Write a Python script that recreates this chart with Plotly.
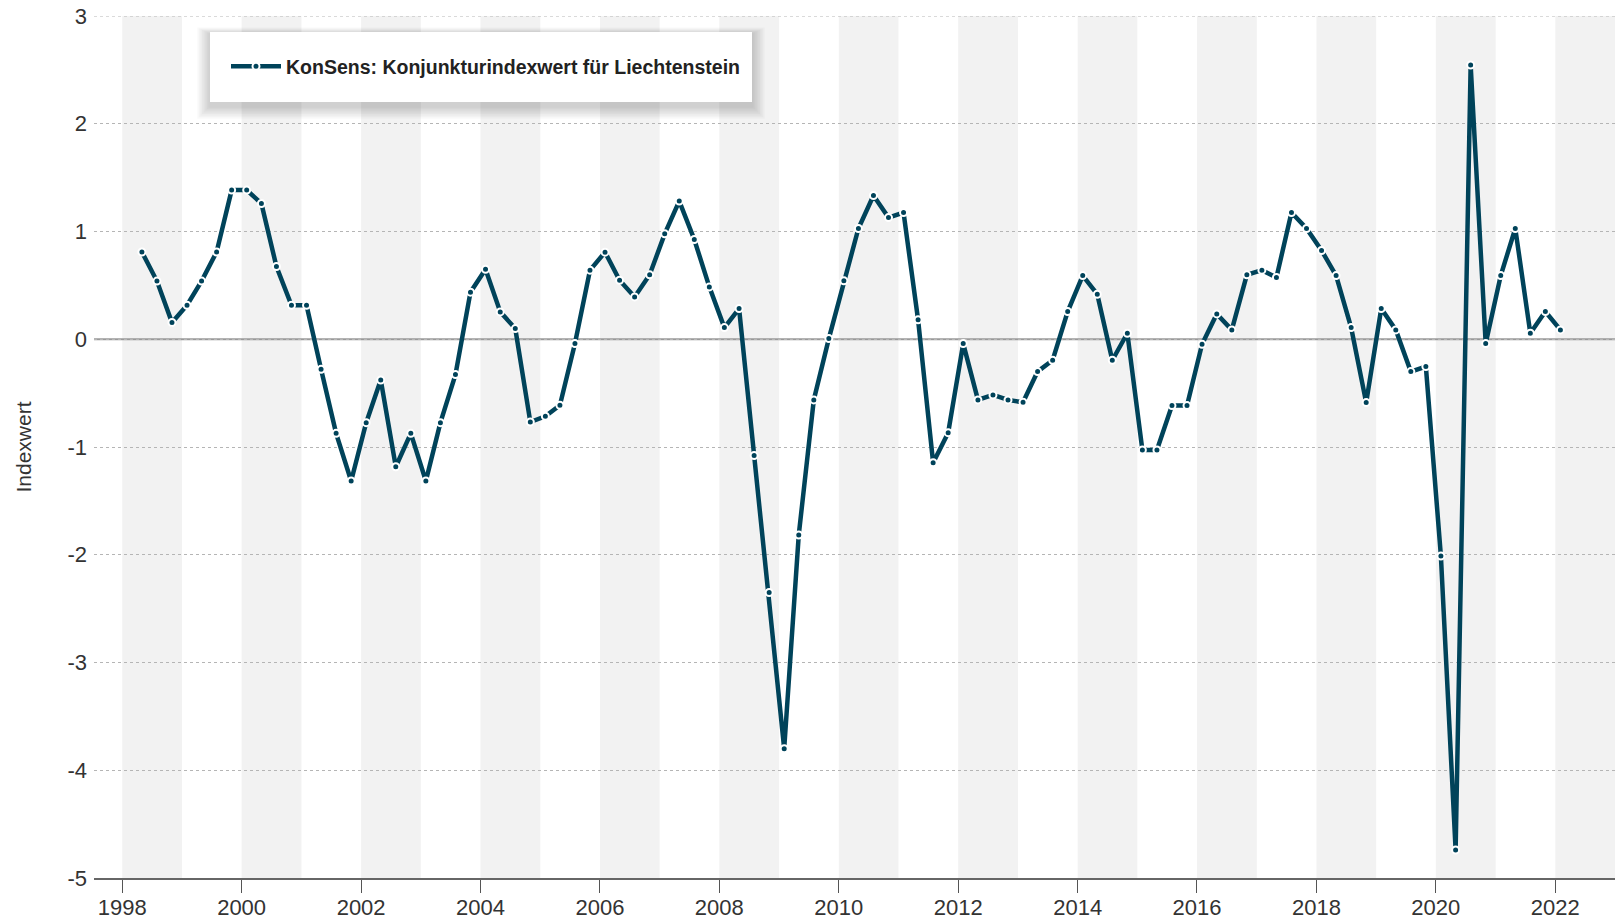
import pandas as pd
import plotly.graph_objects as go

# Quarterly index values, May 1998 .. Feb 2022
start_quarter = "1998-05-01"
values = [
    0.81, 0.54, 0.155, 0.316,            # 1998-05 .. 1999-02
    0.54, 0.81, 1.384, 1.384,            # 1999-05 .. 2000-02
    1.26, 0.675, 0.316, 0.316,           # 2000-05 .. 2001-02
    -0.279, -0.873, -1.316, -0.774,      # 2001-05 .. 2002-02
    -0.378, -1.183, -0.873, -1.316,      # 2002-05 .. 2003-02
    -0.774, -0.328, 0.437, 0.65,         # 2003-05 .. 2004-02
    0.254, 0.099, -0.768, -0.715,        # 2004-05 .. 2005-02
    -0.613, -0.04, 0.641, 0.808,         # 2005-05 .. 2006-02
    0.548, 0.393, 0.598, 0.978,          # 2006-05 .. 2007-02
    1.282, 0.926, 0.486, 0.108,          # 2007-05 .. 2008-02
    0.285, -1.08, -2.35, -3.80,          # 2008-05 .. 2009-02
    -1.817, -0.563, 0.006, 0.542,        # 2009-05 .. 2010-02
    1.028, 1.334, 1.129, 1.176,          # 2010-05 .. 2011-02
    0.18, -1.146, -0.867, -0.04,         # 2011-05 .. 2012-02
    -0.563, -0.517, -0.563, -0.585,      # 2012-05 .. 2013-02
    -0.30, -0.195, 0.257, 0.591,         # 2013-05 .. 2014-02
    0.418, -0.195, 0.056, -1.028,        # 2014-05 .. 2015-02
    -1.028, -0.616, -0.616, -0.046,      # 2015-05 .. 2016-02
    0.235, 0.087, 0.598, 0.641,          # 2016-05 .. 2017-02
    0.573, 1.176, 1.028, 0.824,          # 2017-05 .. 2018-02
    0.591, 0.108, -0.588, 0.285,         # 2018-05 .. 2019-02
    0.087, -0.30, -0.254, -2.012,        # 2019-05 .. 2020-02
    -4.74, 2.545, -0.04, 0.591,          # 2020-05 .. 2021-02
    1.028, 0.056, 0.257, 0.087,          # 2021-05 .. 2022-02
]
dates = pd.date_range(start_quarter, periods=len(values), freq="3MS")

series_name = "KonSens: Konjunkturindexwert für Liechtenstein"
y_ticks = [3, 2, 1, 0, -1, -2, -3, -4, -5]
y_labels = ["3", "2", "1", "0", "-1", "-2", "-3", "-4", "-5"]
band_years = list(range(1998, 2023, 2))

LINE = "#00435a"
FONT = "'Liberation Sans', Arial, sans-serif"

# page geometry (body margin is removed by the post script)
PL, PR, PT, PB = 94, 1615, 16, 877.7
PW, PH = PR - PL, PB - PT


def px(x):
    return (x - PL) / PW


def py(y):
    return 1 - (y - PT) / PH


fig = go.Figure()
fig.add_trace(go.Scatter(
    x=dates, y=values, mode="lines+markers", name=series_name,
    line=dict(color=LINE, width=4.5),
    marker=dict(color=LINE, size=7, line=dict(color="white", width=2)),
    showlegend=True,
))

shapes = []
for yr in band_years:
    shapes.append(dict(type="rect", xref="x", yref="paper",
                       x0=f"{yr}-01-01", x1=f"{yr+1}-01-01", y0=0, y1=1,
                       fillcolor="#f2f2f2", line=dict(width=0), layer="below"))
# top gridline (at the range edge)
shapes.append(dict(type="line", xref="paper", yref="y", x0=0, x1=1, y0=3, y1=3,
                   line=dict(color="#b5b5b5", width=1, dash="dot"), layer="below"))
# zero line
shapes.append(dict(type="line", xref="paper", yref="y", x0=0, x1=1, y0=0, y1=0,
                   line=dict(color="#9a9a9a", width=2), layer="below"))
# legend box with soft shadow
bx0, bx1, by0, by1 = 210, 752, 32, 102
for i in range(8, 0, -1):
    s = 1.6 * i
    shapes.append(dict(type="rect", xref="paper", yref="paper",
                       x0=px(bx0 - s), x1=px(bx1 + s),
                       y0=py(by1 + 4 + s), y1=py(by0 + 2 - s * 0.5),
                       fillcolor="rgba(0,0,0,0.022)", line=dict(width=0), layer="above"))
shapes.append(dict(type="rect", xref="paper", yref="paper",
                   x0=px(bx0), x1=px(bx1), y0=py(by1), y1=py(by0),
                   fillcolor="white", line=dict(width=0), layer="above"))

fig.update_layout(
    width=1615, height=921,
    margin=dict(l=PL, r=0, t=PT, b=921 - PB, autoexpand=False),
    paper_bgcolor="white", plot_bgcolor="white",
    font=dict(family=FONT, color="#333333", size=17),
    shapes=shapes,
    legend=dict(
        x=px(226), y=py(47), xanchor="left", yanchor="top",
        bgcolor="rgba(0,0,0,0)", borderwidth=0,
        font=dict(family=FONT, size=19.5, color="#222222", weight="bold"),
        itemwidth=50,
    ),
    xaxis=dict(
        type="date", automargin=False,
        range=["1997-07-12", "2023-01-01"],
        tick0="1998-01-01", dtick="M24", tickformat="%Y",
        ticks="outside", ticklen=13, tickwidth=1, tickcolor="#555555",
        ticklabelstandoff=-4,
        showgrid=False, zeroline=False,
        showline=True, linecolor="#666666", linewidth=1.5,
        tickfont=dict(size=22, color="#333333"),
    ),
    yaxis=dict(
        range=[-5, 3], automargin=False,
        tickvals=y_ticks, ticktext=y_labels,
        showgrid=True, gridcolor="#b5b5b5", griddash="dot", gridwidth=1,
        zeroline=False, showline=False, ticks="",
        ticklabelstandoff=6, ticklabeloverflow="allow",
        tickfont=dict(size=22, color="#333333"),
        title=dict(text="Indexwert", font=dict(size=21, color="#333333"), standoff=30),
    ),
)

fig.write_html("out.html", config={"displayModeBar": False},
               post_script="document.body.style.margin='0';document.body.style.overflow='hidden';")
